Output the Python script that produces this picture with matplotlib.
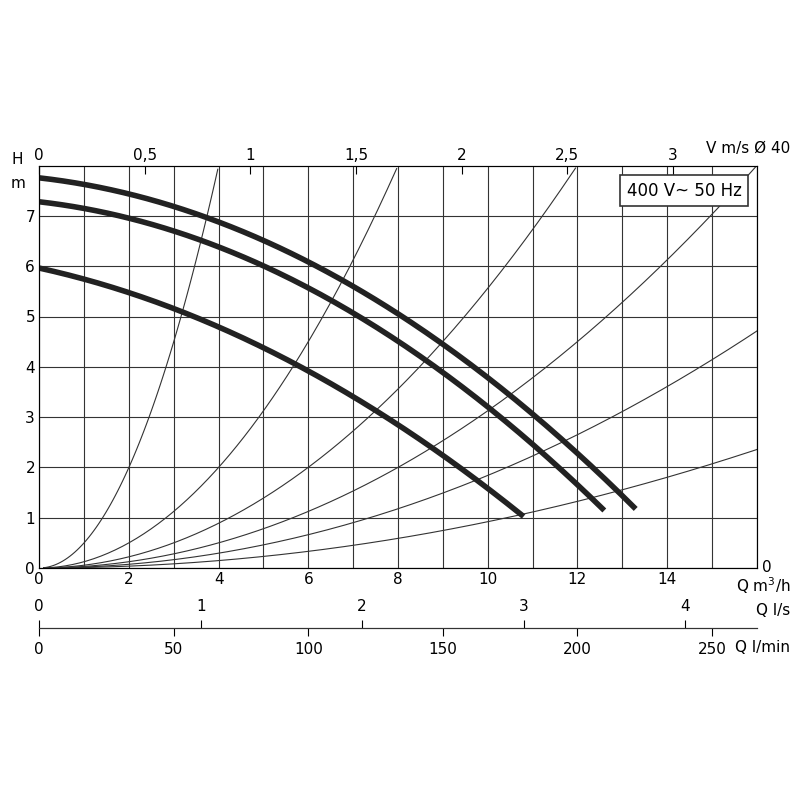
import numpy as np
import matplotlib.pyplot as plt

# pump curves (Q m3/h, H m)
q_top = [0, 2, 4, 6, 8, 10, 12, 13.3]
h_top = [7.65, 7.5, 7.0, 6.15, 5.0, 3.65, 2.15, 1.35]
q_mid = [0, 2, 4, 6, 8, 10, 12, 12.6]
h_mid = [7.2, 7.0, 6.5, 5.6, 4.45, 3.05, 1.65, 1.25]
q_low = [0, 2, 4, 6, 8, 10, 10.8]
h_low = [5.9, 5.55, 4.85, 3.9, 2.75, 1.55, 1.1]
# system curves H = k*Q^2
sys_k = [0.5, 0.125, 0.0556, 0.03125, 0.0184, 0.0092]

fig = plt.figure(figsize=(8, 8), dpi=100)
ax = fig.add_axes([0.049, 0.29, 0.897, 0.503])

for k in sys_k:
    q = np.linspace(0.1, 16, 300)
    h = k * q ** 2
    m = h <= 8
    ax.plot(q[m], h[m], color='#333333', lw=0.8)

for q, h in [(q_top, h_top), (q_mid, h_mid), (q_low, h_low)]:
    qq = np.linspace(q[0], q[-1], 200)
    hh = np.interp(qq, q, h)
    hh = np.polyval(np.polyfit(q, h, 2), qq)
    ax.plot(qq, hh, color='#222222', lw=4, solid_capstyle='butt')

ax.set_xlim(0, 16)
ax.set_ylim(0, 8)
ax.set_xticks(range(0, 17))
ax.set_xticklabels([str(i) if i % 2 == 0 and i < 16 else '' for i in range(17)])
ax.set_yticks(range(0, 8))
ax.grid(color='#333333', lw=0.8)
ax.tick_params(labelsize=11, length=0, pad=3)
for s in ax.spines.values():
    s.set_color('#333333')
ax.text(13.1, 7.5, '400 V~ 50 Hz', fontsize=12, va='center',
        bbox=dict(boxstyle='square,pad=0.4', fc='white', ec='#333333', lw=1.2))

fig.text(0.022, 0.8, 'H', fontsize=11, ha='center', va='center')
fig.text(0.022, 0.77, 'm', fontsize=11, ha='center', va='center')
fig.text(0.953, 0.29, '0', fontsize=11, va='center')
fig.text(0.988, 0.268, 'Q m$^3$/h', fontsize=11, va='center', ha='right')
fig.text(0.988, 0.815, 'V m/s Ø 40', fontsize=11, va='center', ha='right')
fig.text(0.988, 0.237, 'Q l/s', fontsize=11, va='center', ha='right')
fig.text(0.988, 0.19, 'Q l/min', fontsize=11, va='center', ha='right')

# top velocity axis
top = ax.twiny()
top.set_xlim(0, 16 / 4.71)
top.set_xticks([0, 0.5, 1, 1.5, 2, 2.5, 3])
top.set_xticklabels(['0', '0,5', '1', '1,5', '2', '2,5', '3'])
top.tick_params(labelsize=11, direction='in', length=6, pad=2)

# Q l/s axis (labels above line)
ax2 = fig.add_axes([0.049, 0.215, 0.897, 0.0001])
ax2.set_xlim(0, 16 / 3.6)
ax2.set_yticks([])
for s in ['left', 'right', 'bottom']:
    ax2.spines[s].set_visible(False)
ax2.spines['top'].set_color('#333333')
ax2.xaxis.set_ticks_position('top')
ax2.set_xticks([0, 1, 2, 3, 4])
ax2.tick_params(labelsize=11, direction='out', length=6, pad=4)

# Q l/min axis (labels below line)
ax3 = fig.add_axes([0.049, 0.215, 0.897, 0.0001])
ax3.patch.set_visible(False)
ax3.set_xlim(0, 16 / 3.6 * 60)
ax3.set_yticks([])
for s in ['left', 'right', 'top']:
    ax3.spines[s].set_visible(False)
ax3.spines['bottom'].set_color('#333333')
ax3.set_xticks([0, 50, 100, 150, 200, 250])
ax3.tick_params(labelsize=11, direction='out', length=6, pad=4)

fig.savefig('out.png')
